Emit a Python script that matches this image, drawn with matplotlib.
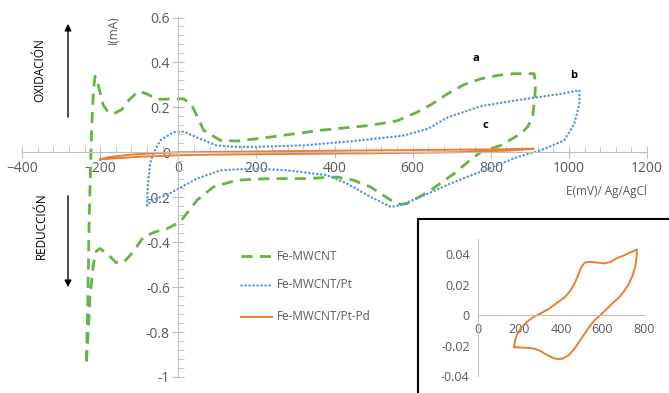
import matplotlib
matplotlib.use("Agg")
import matplotlib.pyplot as plt
from matplotlib.patches import Rectangle

plt.rcParams["font.family"] = ["Open Sans", "DejaVu Sans"]

# --- data (E in mV, I in mA) ---
fe_x = [-235, -232, -228, -222, -217, -213, -205, -192, -180, -165, -145, -125, -102, -80, -55,
        14, 35, 65, 108, 150, 236, 364, 492, 560, 612, 650, 689, 730, 774, 820, 860, 911,
        915, 912, 907, 895, 877, 826, 774, 740, 706, 646, 600, 586, 570, 544, 492, 450, 407,
        321, 236, 150, 90, 48, 5, -29, -60, -89, -115, -140, -160, -174, -200, -210, -217,
        -226, -232, -235]
fe_y = [-0.93, -0.70, -0.30, 0.10, 0.28, 0.338, 0.30, 0.21, 0.18, 0.172, 0.19, 0.235, 0.272,
        0.26, 0.236, 0.238, 0.209, 0.098, 0.053, 0.05, 0.068, 0.098, 0.12, 0.14, 0.179,
        0.215, 0.26, 0.30, 0.327, 0.343, 0.35, 0.35, 0.305, 0.23, 0.157, 0.115, 0.083,
        0.031, 0.001, -0.045, -0.095, -0.169, -0.215, -0.228, -0.232, -0.213, -0.154,
        -0.125, -0.11, -0.117, -0.117, -0.124, -0.154, -0.213, -0.31, -0.34, -0.355,
        -0.376, -0.443, -0.49, -0.49, -0.465, -0.428, -0.44, -0.495, -0.643, -0.85, -0.93]

pt_x = [-80, -78, -72, -63, -46, -12, 14, 56, 99, 150, 193, 321, 450, 578, 640, 689, 774,
        860, 979, 1027, 1027, 1014, 988, 928, 868, 783, 697, 621, 569, 544, 492, 432, 381,
        279, 193, 108, 48, -3, -29, -64, -80]
pt_y = [-0.236, -0.15, -0.05, 0.0, 0.053, 0.09, 0.092, 0.06, 0.03, 0.024, 0.024, 0.031,
        0.05, 0.075, 0.105, 0.155, 0.205, 0.23, 0.26, 0.276, 0.216, 0.127, 0.053, 0.009,
        -0.021, -0.08, -0.139, -0.198, -0.235, -0.243, -0.198, -0.139, -0.102, -0.08,
        -0.072, -0.08, -0.117, -0.165, -0.19, -0.21, -0.236]

ptpd_x = [-200, -180, -120, -50, 0, 200, 400, 600, 800, 910,
          850, 700, 500, 300, 100, 0, -100, -170, -200]
ptpd_y = [-0.032, -0.022, -0.01, -0.003, 0.0, 0.004, 0.007, 0.01, 0.013, 0.016,
          0.008, 0.0, -0.004, -0.007, -0.01, -0.013, -0.02, -0.028, -0.032]

# inset: Fe-MWCNT/Pt-Pd alone
ins_x = [175, 178, 190, 210, 240, 270, 300, 340, 380, 420, 445, 466, 485, 500, 515, 540,
         575, 610, 640, 670, 700, 730, 766,
         764, 758, 745, 725, 700, 675, 650, 620, 590, 565, 540, 515, 490, 465, 440, 410,
         385, 360, 330, 300, 270, 240, 200, 175]
ins_y = [-0.021, -0.017, -0.012, -0.008, -0.004, -0.001, 0.001, 0.004, 0.008, 0.012,
         0.016, 0.021, 0.027, 0.032, 0.0345, 0.035, 0.0345, 0.034, 0.035, 0.0375, 0.039,
         0.041, 0.043,
         0.038, 0.032, 0.026, 0.020, 0.015, 0.011, 0.008, 0.004, 0.0, -0.003, -0.007,
         -0.012, -0.017, -0.022, -0.026, -0.0285, -0.029, -0.028, -0.026, -0.0235, -0.022,
         -0.0215, -0.0213, -0.021]

series_names = ["Fe-MWCNT", "Fe-MWCNT/Pt", "Fe-MWCNT/Pt-Pd"]

GREEN = "#66b447"
BLUE = "#5b9bd5"
ORANGE = "#ed7d31"
GRAY = "#595959"
SPINE = "#bfbfbf"

green_style = dict(color=GREEN, lw=2.0, ls=(0, (4, 2.6)))
blue_style = dict(color=BLUE, lw=1.8, ls=(0, (0.1, 1.5)), dash_capstyle="round")
orange_style = dict(color=ORANGE, lw=1.4)

fig = plt.figure(figsize=(6.69, 3.93), dpi=100)
ax = fig.add_axes([22 / 669, 1 - 377 / 393, 625 / 669, 359.5 / 393])

ax.plot(fe_x, fe_y, solid_joinstyle="round", **green_style)
ax.plot(pt_x, pt_y, **blue_style)
ax.plot(ptpd_x, ptpd_y, **orange_style)

ax.set_xlim(-400, 1200)
ax.set_ylim(-1, 0.6)
for s in ["top", "right"]:
    ax.spines[s].set_visible(False)
ax.spines["left"].set_position(("data", 0))
ax.spines["bottom"].set_position(("data", 0))
for s in ["left", "bottom"]:
    ax.spines[s].set_color(SPINE)
ax.set_xticks(range(-400, 1201, 200))
ax.set_xticks(range(-400, 1201, 40), minor=True)
ax.set_yticks([-1, -0.8, -0.6, -0.4, -0.2, 0, 0.2, 0.4, 0.6])
ax.set_yticks([i * 0.04 - 1 for i in range(41)], minor=True)
ax.set_yticklabels(["-1", "-0.8", "-0.6", "-0.4", "-0.2", "0", "0.2", "0.4", "0.6"])
ax.tick_params(which="major", direction="inout", length=8, color=SPINE,
               labelsize=10, labelcolor=GRAY, pad=2)
ax.tick_params(which="minor", direction="in", length=4, color=SPINE)
ax.patch.set_alpha(0)

# annotations
ax.text(762, 0.418, "a", fontsize=8, fontweight="bold", ha="center", va="center")
ax.text(1013, 0.342, "b", fontsize=8, fontweight="bold", ha="center", va="center")
ax.text(787, 0.12, "c", fontsize=8, fontweight="bold", ha="center", va="center")

fig.text(113 / 669, 1 - 30 / 393, "I(mA)", rotation=90, ha="center", va="center",
         fontsize=8.5, color=GRAY)
fig.text(606 / 669, 1 - 192 / 393, "E(mV)/ Ag/AgCl", ha="center", va="center",
         fontsize=8.5, color=GRAY)

fig.text(40 / 669, 1 - 70 / 393, "OXIDACIÓN", rotation=90, ha="center", va="center",
         fontsize=8.5, color="black")
fig.text(41 / 669, 1 - 226 / 393, "REDUCCIÓN", rotation=90, ha="center", va="center",
         fontsize=8.5, color="black")
ax.annotate("", xy=(68 / 669, 1 - 21 / 393), xytext=(68 / 669, 1 - 120 / 393),
            xycoords="figure fraction", textcoords="figure fraction",
            arrowprops=dict(arrowstyle="-|>", color="black", lw=1, mutation_scale=10))
ax.annotate("", xy=(68 / 669, 1 - 290 / 393), xytext=(68 / 669, 1 - 193 / 393),
            xycoords="figure fraction", textcoords="figure fraction",
            arrowprops=dict(arrowstyle="-|>", color="black", lw=1, mutation_scale=10))

# legend drawn by hand to match the placement
leg_y = [256, 285, 317]
leg_styles = [green_style, blue_style, orange_style]
for name, yy, st in zip(series_names, leg_y, leg_styles):
    fy = 1 - yy / 393
    fig.add_artist(plt.Line2D([241 / 669, 272 / 669], [fy, fy], **st))
    fig.text(277 / 669, fy, name, ha="left", va="center", fontsize=8.5, color=GRAY)

# inset box
box = Rectangle((418 / 669, -0.05), 0.5, 1 - 219 / 393 + 0.05,
                transform=fig.transFigure, facecolor="white",
                edgecolor="black", lw=1.5, zorder=2)
fig.add_artist(box)
ins = fig.add_axes([478 / 669, 1 - 376 / 393, 166 / 669, 137 / 393])
ins.set_zorder(3)
ins.plot(ins_x, ins_y, solid_joinstyle="round", **orange_style)
ins.set_xlim(0, 800)
ins.set_ylim(-0.04, 0.05)
for s in ["top", "right"]:
    ins.spines[s].set_visible(False)
ins.spines["bottom"].set_position(("data", 0))
for s in ["left", "bottom"]:
    ins.spines[s].set_color(SPINE)
ins.set_xticks([0, 200, 400, 600, 800])
ins.set_yticks([-0.04, -0.02, 0, 0.02, 0.04])
ins.set_yticklabels(["-0.04", "-0.02", "0", "0.02", "0.04"])
ins.tick_params(length=0, labelsize=9, labelcolor=GRAY, pad=6)
ins.patch.set_alpha(0)

fig.savefig("out.png", dpi=100)
